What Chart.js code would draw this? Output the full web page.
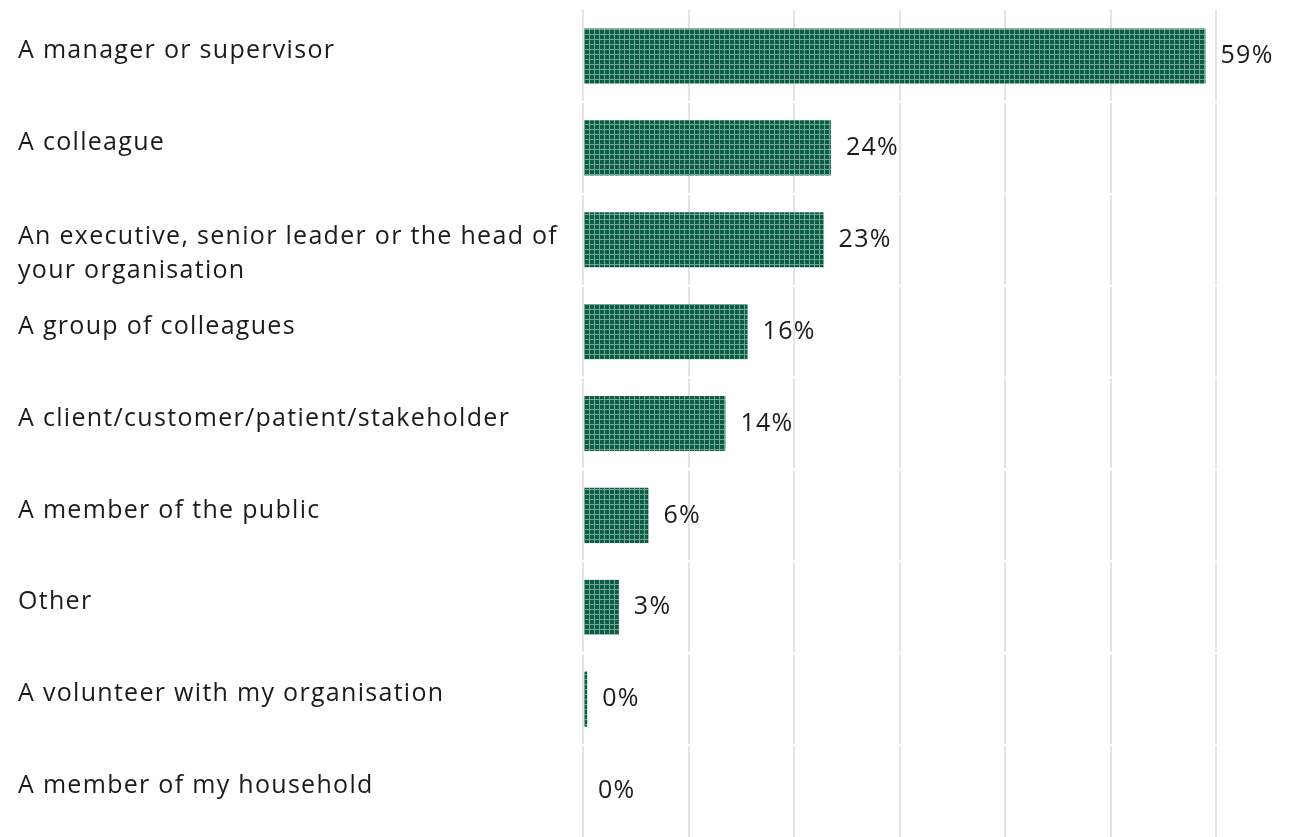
<!DOCTYPE html>
<html>
<head>
<meta charset="utf-8">
<script src="https://cdn.jsdelivr.net/npm/chart.js@4/dist/chart.umd.min.js"></script>
<style>
  html, body { margin: 0; padding: 0; background: #fff; }
  canvas { display: block; }
</style>
</head>
<body>
<canvas id="perpetratorChart" width="1304" height="837"></canvas>
<script>
// Who was the perpetrator (share of respondents)
const categories = [
  "A manager or supervisor",
  "A colleague",
  ["An executive, senior leader or the head of", "your organisation"],
  "A group of colleagues",
  "A client/customer/patient/stakeholder",
  "A member of the public",
  "Other",
  "A volunteer with my organisation",
  "A member of my household",
];
const shares = [59.0, 23.5, 22.8, 15.6, 13.5, 6.2, 3.4, 0.4, 0];
const axisTicks = [0, 10, 20, 30, 40, 50, 60];

const FONT = "25px 'Open Sans', sans-serif";
const SPACING = "1.3px";
const TEXT = "#1b1b1b";

// small checked tile used to fill the bars
function checkPattern(ctx) {
  const tile = document.createElement("canvas");
  tile.width = 5;
  tile.height = 5;
  const t = tile.getContext("2d");
  t.fillStyle = "#0b5e46";
  t.fillRect(0, 0, 5, 5);
  t.fillStyle = "#74a596";
  t.fillRect(4, 0, 1, 5);
  t.fillRect(0, 4, 5, 1);
  return ctx.createPattern(tile, "repeat");
}

// breaks the vertical grid between rows
const rowGaps = {
  id: "rowGaps",
  beforeDatasetsDraw(chart) {
    const { ctx, chartArea, scales } = chart;
    const y = scales.y;
    ctx.save();
    ctx.fillStyle = "#fff";
    for (let i = 0; i < categories.length - 1; i++) {
      const mid = (y.getPixelForTick(i) + y.getPixelForTick(i + 1)) / 2;
      ctx.fillRect(chartArea.left - 2, mid - 1, chartArea.width + 4, 2);
    }
    ctx.restore();
  },
};

// category names, left aligned and hung from the row centre
const rowLabels = {
  id: "rowLabels",
  afterDraw(chart) {
    const { ctx, scales } = chart;
    const y = scales.y;
    ctx.save();
    ctx.font = FONT;
    ctx.letterSpacing = SPACING;
    ctx.fillStyle = TEXT;
    ctx.textAlign = "left";
    ctx.textBaseline = "middle";
    categories.forEach((label, i) => {
      const lines = Array.isArray(label) ? label : [label];
      const top = y.getPixelForTick(i) - (lines.length > 1 ? 3 : 5);
      lines.forEach((line, j) => ctx.fillText(line, 18, top + j * 34));
    });
    ctx.restore();
  },
};

// percentage beside each bar
const valueLabels = {
  id: "valueLabels",
  afterDatasetsDraw(chart) {
    const { ctx } = chart;
    const meta = chart.getDatasetMeta(0);
    ctx.save();
    ctx.font = FONT;
    ctx.letterSpacing = SPACING;
    ctx.fillStyle = TEXT;
    ctx.textAlign = "left";
    ctx.textBaseline = "middle";
    meta.data.forEach((bar, i) => {
      ctx.fillText(Math.round(shares[i]) + "%", bar.x + 15, bar.y);
    });
    ctx.restore();
  },
};

const ctx = document.getElementById("perpetratorChart").getContext("2d");
new Chart(ctx, {
  type: "bar",
  data: {
    labels: categories,
    datasets: [
      {
        data: shares,
        backgroundColor: checkPattern(ctx),
        borderWidth: 0,
        categoryPercentage: 0.6,
        barPercentage: 1,
      },
    ],
  },
  options: {
    indexAxis: "y",
    responsive: false,
    animation: false,
    layout: { padding: { left: 18, top: 10, right: 88, bottom: 0 } },
    plugins: {
      legend: { display: false },
      tooltip: { enabled: false },
    },
    scales: {
      x: {
        min: 0,
        max: 60,
        afterBuildTicks(scale) {
          scale.ticks = axisTicks.map((v) => ({ value: v }));
        },
        ticks: { display: false },
        border: { display: false },
        grid: { color: "#e4e4e4", lineWidth: 2, drawTicks: false },
      },
      y: {
        ticks: { display: false },
        border: { display: false },
        grid: { display: false },
        afterFit(scale) {
          scale.width = 565;
        },
      },
    },
  },
  plugins: [rowGaps, valueLabels, rowLabels],
});
</script>
</body>
</html>
